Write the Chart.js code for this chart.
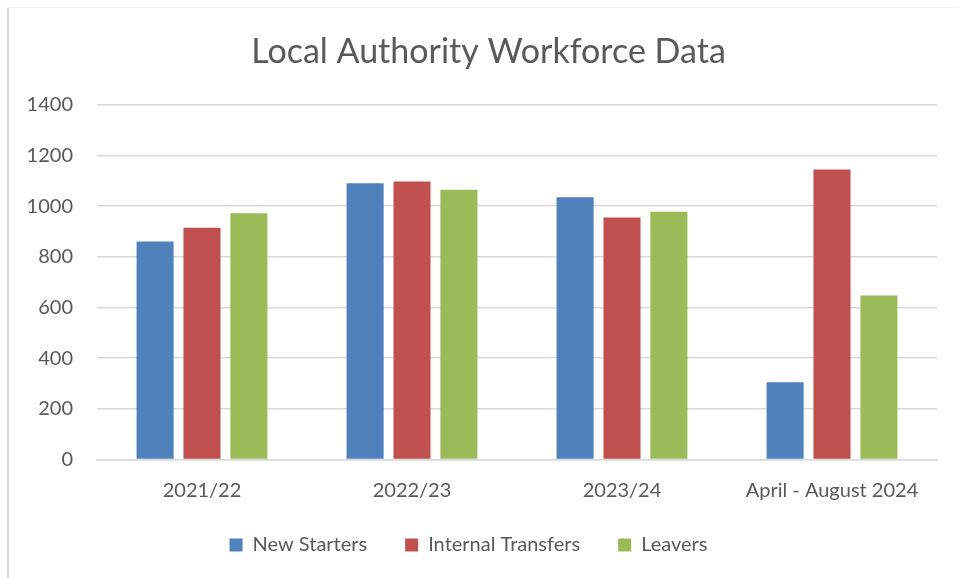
<!DOCTYPE html>
<html>
<head>
<meta charset="utf-8">
<script src="https://cdn.jsdelivr.net/npm/chart.js@4.4.1/dist/chart.umd.min.js"></script>
<style>
  html, body { margin: 0; padding: 0; background: #ffffff; }
  #wrap { position: relative; width: 958px; height: 578px; }
</style>
</head>
<body>
<div id="wrap"><canvas id="c" width="958" height="578"></canvas></div>
<script>
const categories = ["2021/22", "2022/23", "2023/24", "April - August 2024"];
const newStarters = [860, 1090, 1035, 305];
const internalTransfers = [915, 1097, 955, 1145];
const leavers = [972, 1065, 978, 647];
const seriesNames = ["New Starters", "Internal Transfers", "Leavers"];
const yTicks = [0, 200, 400, 600, 800, 1000, 1200, 1400];

const colors = ["#4F81BD", "#C0504D", "#9BBB59"];
const textColor = "#595959";
const FONT = "Lato, 'Open Sans', sans-serif";

const frame = {
  id: "frame",
  beforeDraw(chart) {
    const ctx = chart.ctx;
    ctx.save();
    ctx.fillStyle = "#ffffff";
    ctx.fillRect(0, 0, chart.width, chart.height);
    ctx.fillStyle = "#f0f0f0";
    ctx.fillRect(7, 7, chart.width - 7, 1);
    ctx.fillStyle = "#d9d9d9";
    ctx.fillRect(7, 8, 2, chart.height - 8);
    ctx.restore();
  },
  afterLayout(chart) {
    if (chart.titleBlock) { chart.titleBlock.left = 40; }
    if (chart.legend) { chart.legend.top -= 6.5; chart.legend.bottom -= 6.5; }
  }
};

new Chart(document.getElementById("c"), {
  type: "bar",
  data: {
    labels: categories,
    datasets: [
      { label: seriesNames[0], data: newStarters, backgroundColor: colors[0] },
      { label: seriesNames[1], data: internalTransfers, backgroundColor: colors[1] },
      { label: seriesNames[2], data: leavers, backgroundColor: colors[2] }
    ]
  },
  plugins: [frame],
  options: {
    responsive: false,
    animation: false,
    devicePixelRatio: 1,
    categoryPercentage: 0.67,
    barPercentage: 0.79,
    layout: { padding: { left: 0, right: 21, top: 21, bottom: 6.5 } },
    plugins: {
      title: {
        display: true,
        text: "Local Authority Workforce Data",
        color: textColor,
        font: { family: FONT, size: 34, weight: "normal", lineHeight: 1.2 },
        padding: { top: 11, bottom: 32 }
      },
      legend: {
        position: "bottom",
        labels: {
          color: textColor,
          font: { family: FONT, size: 20 },
          boxWidth: 13,
          boxHeight: 13,
          padding: 38
        }
      },
      tooltip: { enabled: false }
    },
    scales: {
      x: {
        afterFit(scale) { scale.height = 44; },
        grid: { display: false, drawTicks: false },
        border: { color: "#d9d9d9", width: 1.5 },
        ticks: { color: textColor, font: { family: FONT, size: 20 }, padding: 19, maxRotation: 0, autoSkip: false }
      },
      y: {
        min: 0,
        max: 1400,
        afterBuildTicks(scale) { scale.ticks = yTicks.map(v => ({ value: v })); },
        afterFit(scale) { scale.width = 97; },
        grid: { color: "#d9d9d9", lineWidth: 1.5, drawTicks: false },
        border: { display: false },
        ticks: { color: textColor, font: { family: FONT, size: 20 }, padding: 24, callback: (v) => String(v) }
      }
    }
  }
});
</script>
</body>
</html>
